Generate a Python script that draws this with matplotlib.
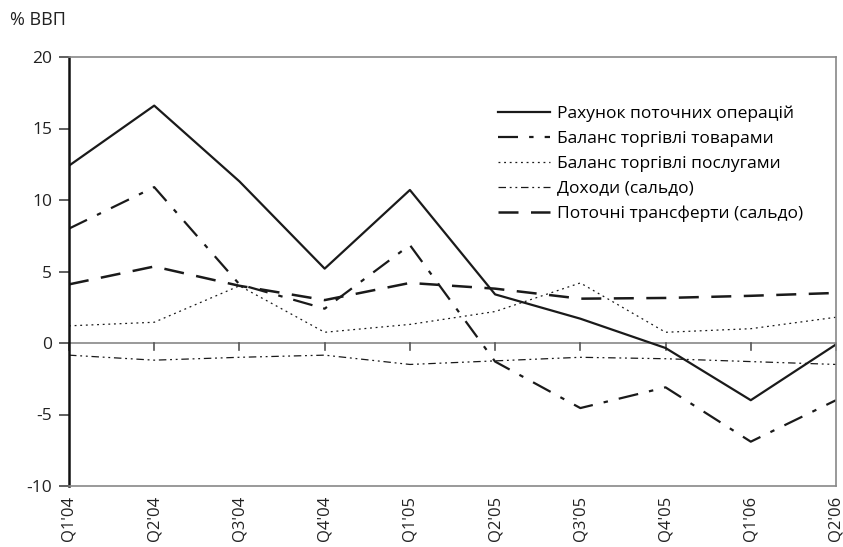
import matplotlib
matplotlib.use("Agg")
import matplotlib.pyplot as plt

quarters = ["Q1'04", "Q2'04", "Q3'04", "Q4'04", "Q1'05", "Q2'05", "Q3'05", "Q4'05", "Q1'06", "Q2'06"]
current_account = [12.4, 16.6, 11.3, 5.2, 10.7, 3.4, 1.7, -0.35, -4.0, -0.1]
goods = [8.0, 10.9, 4.1, 2.4, 6.85, -1.3, -4.55, -3.1, -6.9, -4.0]
services = [1.2, 1.45, 4.0, 0.75, 1.3, 2.2, 4.2, 0.75, 1.0, 1.8]
income = [-0.85, -1.2, -1.0, -0.85, -1.5, -1.25, -1.0, -1.1, -1.3, -1.5]
transfers = [4.1, 5.35, 4.0, 3.0, 4.2, 3.8, 3.1, 3.15, 3.3, 3.5]

labels = ["Рахунок поточних операцій", "Баланс торгівлі товарами",
          "Баланс торгівлі послугами", "Доходи (сальдо)", "Поточні трансферти (сальдо)"]

plt.rcParams['font.family'] = ['Open Sans', 'DejaVu Sans']

fig = plt.figure(figsize=(8.43, 5.47), dpi=100)
ax = fig.add_axes([69/843, 1-486/547, (836-69)/843, (486-57)/547])

x = list(range(len(quarters)))
c = '#1a1a1a'
ax.plot(x, current_account, color=c, lw=1.6, ls='-', label=labels[0])
ax.plot(x, goods, color=c, lw=1.6, ls=(0, (9, 5, 2, 5)), label=labels[1])
ax.plot(x, services, color=c, lw=0.9, ls=(0, (1.5, 3)), label=labels[2])
ax.plot(x, income, color=c, lw=0.9, ls=(0, (6, 3, 1.5, 3, 1.5, 3)), label=labels[3])
ax.plot(x, transfers, color=c, lw=1.8, ls=(0, (8, 5)), label=labels[4])

ax.set_xlim(0, len(quarters) - 1)
ax.set_ylim(-10, 20)
ax.set_yticks([-10, -5, 0, 5, 10, 15, 20])
ax.set_yticklabels(['-10', '-5', '0', '5', '10', '15', '20'], fontsize=12.5, color='#222222')

ax.axhline(0, color='#888888', lw=1.2, zorder=0)
for xi in x:
    ax.plot([xi, xi], [0, -0.5], color='#555555', lw=1.2, zorder=0, clip_on=False)

ax.set_xticks(x)
ax.set_xticklabels(quarters, rotation=90, fontsize=12, color='#222222')
ax.tick_params(axis='x', length=0, pad=7)
ax.tick_params(axis='y', length=7, color='#444444', width=1.2, direction='out', pad=5)

for side in ['top', 'right', 'bottom']:
    ax.spines[side].set_color('#888888')
    ax.spines[side].set_linewidth(1.2)
ax.spines['left'].set_color('#111111')
ax.spines['left'].set_linewidth(1.8)

leg = ax.legend(loc='upper left', bbox_to_anchor=(0.543, 0.915), frameon=False,
                fontsize=12.5, handlelength=3.0, handletextpad=0.4, labelspacing=0.5,
                borderpad=0.2)

fig.text(10/843, 1-20/547, '% ВВП', fontsize=13, va='center', ha='left', color='#222222')

fig.savefig('out.png', dpi=100)
